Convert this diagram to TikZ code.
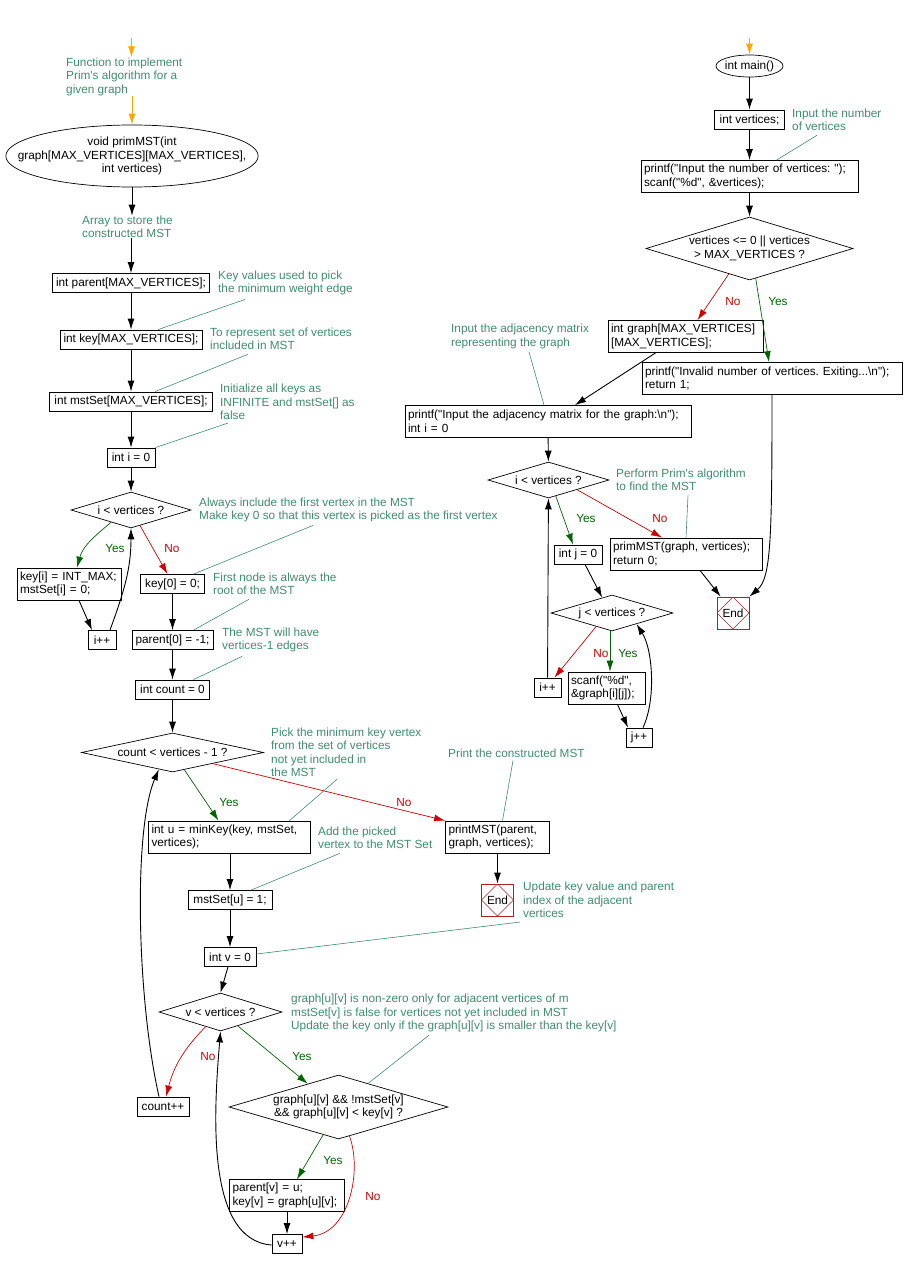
\documentclass[tikz,border=0pt]{standalone}
\usepackage{fontspec}
\setmainfont{Liberation Sans}
\usetikzlibrary{shapes.geometric,arrows.meta,calc}
\definecolor{notecol}{RGB}{64,140,110}
\definecolor{yescol}{RGB}{0,100,0}
\definecolor{nocol}{RGB}{210,0,0}
\definecolor{startcol}{RGB}{255,165,0}
\definecolor{endcol}{RGB}{170,34,34}
\frenchspacing

\begin{document}
\begin{tikzpicture}[x=1pt,y=-1pt,
  font=\fontsize{11.8}{13.5}\selectfont,
  >={Latex[length=11pt,width=7pt]},
  box/.style={draw,line width=0.8pt,inner xsep=3pt,inner ysep=2pt,minimum height=19pt},
  mbox/.style={box,align=left,minimum height=32pt},
  cond/.style={draw,diamond,line width=0.7pt,inner sep=0pt,align=center},
  term/.style={draw,ellipse,line width=0.7pt,inner ysep=0pt,align=center},
  endbox/.style={draw=endcol,line width=0.7pt,minimum size=32pt,inner sep=0pt,
    path picture={\draw[endcol,line width=0.6pt] (path picture bounding box.north)
      -- (path picture bounding box.east) -- (path picture bounding box.south)
      -- (path picture bounding box.west) -- cycle;}},
  note/.style={text=notecol,align=left,inner sep=0pt,anchor=west},
  noteline/.style={draw=notecol,line width=0.6pt},
  flow/.style={->,line width=0.9pt},
  startarr/.style={->,draw=startcol,line width=0.9pt},
  yesarr/.style={->,draw=yescol,line width=0.7pt},
  noarr/.style={->,draw=nocol,line width=0.7pt},
  yestxt/.style={text=yescol,inner sep=0pt},
  notxt/.style={text=nocol,inner sep=0pt}]
  \def\lcol{131}
  \def\mcol{172.5}
  \def\rcol{749.5}
  \def\q{\textquotedbl}
  \useasboundingbox (0,0) rectangle (903,1268);

  % primMST: set up
  \coordinate (s1) at (131.5,38);
  \node[note] (c1) at (66,76.5) {Function to implement\\Prim\textquotesingle s algorithm for a\\given graph};
  \node[term,minimum width=250pt,minimum height=62pt,inner xsep=-25pt] (pm) at (132,156)
    {void primMST(int\\graph[MAX\_VERTICES][MAX\_VERTICES],\\int vertices)};
  \node[note] (c2) at (82,227) {Array to store the\\constructed MST};
  \node[box,minimum width=157pt] (par) at (\lcol,283) {int parent[MAX\_VERTICES];};
  \node[note] (c3) at (218,283) {Key values used to pick\\the minimum weight edge};
  \node[box,minimum width=142pt] (keyb) at (\lcol,339.5) {int key[MAX\_VERTICES];};
  \node[note] (c4) at (210,339) {To represent set of vertices\\included in MST};
  \node[box,minimum width=163pt] (mset) at (\lcol,401.5) {int mstSet[MAX\_VERTICES];};
  \node[note] (c5) at (220,402) {Initialize all keys as\\INFINITE and mstSet[] as\\false};
  \node[box,minimum width=48pt] (i0) at (\lcol,457.5) {int i = 0};
  \node[cond,aspect=3.33,minimum width=120pt,minimum height=36pt] (d1) at (\lcol,510) {i < vertices ?};
  \node[note] (c6) at (199,510) {Always include the first vertex in the MST\\Make key 0 so that this vertex is picked as the first vertex};
  \node[mbox,text width=98pt] (keyi) at (69,584) {key[i] = INT\_MAX;\\mstSet[i] = 0;};
  \node[box,minimum width=28pt] (ipp) at (102,640) {i++};
  \node[box,minimum width=64pt] (key0) at (\mcol,584) {key[0] = 0;};
  \node[note] (c7) at (213,584) {First node is always the\\root of the MST};
  \node[box,minimum width=81pt] (p0) at (\mcol,640) {parent[0] = -1;};
  \node[note] (c8) at (222,640) {The MST will have\\vertices-1 edges};
  \node[box,minimum width=74pt] (cnt) at (\mcol,689.5) {int count = 0};

  % primMST: main loop
  \node[cond,aspect=4.67,minimum width=182pt,minimum height=39pt] (d2) at (\mcol,752.5) {count < vertices - 1 ?};
  \node[note] (c9) at (271,752.5) {Pick the minimum key vertex\\from the set of vertices\\not yet included in\\the MST};
  \node[mbox,text width=156pt] (intu) at (229.5,837) {int u = minKey(key, mstSet,\\vertices);};
  \node[note] (c10) at (318,838) {Add the picked\\vertex to the MST Set};
  \node[box,minimum width=84pt] (mstu) at (230,900) {mstSet[u] = 1;};
  \node[mbox,text width=98pt] (prt) at (497.5,837) {printMST(parent,\\graph, vertices);};
  \node[note] (c11) at (448,753) {Print the constructed MST};
  \node[endbox] (e1) at (497.5,900) {End};
  \node[note] (c12) at (523,900) {Update key value and parent\\index of the adjacent\\vertices};
  \node[box,minimum width=52pt] (intv) at (230,957) {int v = 0};
  \node[cond,aspect=3.24,minimum width=123pt,minimum height=38pt] (d3) at (220.5,1012) {v < vertices ?};
  \node[note] (c13) at (291,1013) {graph[u][v] is non-zero only for adjacent vertices of m\\mstSet[v] is false for vertices not yet included in MST\\Update the key only if the graph[u][v] is smaller than the key[v]};
  \node[cond,aspect=3.42,minimum width=219pt,minimum height=64pt] (d4) at (338.5,1107)
    {graph[u][v] \&\& !mstSet[v]\\\&\& graph[u][v] < key[v] ?};
  \node[box,minimum width=52pt] (cpp) at (163,1106.5) {count++};
  \node[mbox,text width=109pt] (pv) at (287,1195.5) {parent[v] = u;\\key[v] = graph[u][v];};
  \node[box,minimum width=30pt] (vpp) at (287,1244) {v++};

  % main
  \coordinate (s2) at (\rcol,38);
  \node[term,minimum width=67pt,minimum height=22pt,inner xsep=-3pt] (mainn) at (\rcol,66) {int main()};
  \node[box,minimum width=70pt] (vert) at (\rcol,119.5) {int vertices;};
  \node[note] (c14) at (792,120) {Input the number\\of vertices};
  \node[mbox,text width=211pt] (scanfv) at (\rcol,176.5) {printf(\q Input the number of vertices: \q);\\scanf(\q\%d\q, \&vertices);};
  \node[cond,aspect=3.29,minimum width=207pt,minimum height=63pt] (d5) at (\rcol,248.5) {vertices <= 0 || vertices\\> MAX\_VERTICES ?};
  \node[mbox,text width=149pt] (gdecl) at (685.5,336.5) {int graph[MAX\_VERTICES]\\{}[MAX\_VERTICES];};
  \node[mbox,text width=254pt] (inv) at (772,378.5) {printf(\q Invalid number of vertices. Exiting...\textbackslash n\q);\\return 1;};
  \node[note] (c15) at (451,336.5) {Input the adjacency matrix\\representing the graph};
  \node[mbox,text width=280pt] (adj) at (548,421.5) {printf(\q Input the adjacency matrix for the graph:\textbackslash n\q);\\int i = 0};
  \node[cond,aspect=3.36,minimum width=121pt,minimum height=36pt] (d6) at (548.5,480) {i < vertices ?};
  \node[note] (c16) at (616,480) {Perform Prim\textquotesingle s algorithm\\to find the MST};
  \node[mbox,text width=146pt] (primc) at (686,554) {primMST(graph, vertices);\\return 0;};
  \node[box,minimum width=48pt] (j0) at (578,554.5) {int j = 0};
  \node[endbox] (e2) at (733,613) {End};
  \node[cond,aspect=3.39,minimum width=122pt,minimum height=36pt] (d7) at (612,613) {j < vertices ?};
  \node[box,minimum width=27pt] (ipp2) at (547.5,687.5) {i++};
  \node[mbox,text width=71pt] (scanfg) at (606.5,688) {scanf(\q\%d\q,\\\&graph[i][j]);};
  \node[box,minimum width=26pt] (jpp) at (639,737.5) {j++};

  % yes / no labels
  \node[yestxt] (y1) at (115,548) {Yes};
  \node[notxt] (n1) at (172,548) {No};
  \node[yestxt] (y2) at (229,802) {Yes};
  \node[notxt] (n2) at (404,802) {No};
  \node[yestxt] (y3) at (302,1056) {Yes};
  \node[notxt] (n3) at (208,1056) {No};
  \node[yestxt] (y4) at (333,1160) {Yes};
  \node[notxt] (n4) at (373,1196) {No};
  \node[yestxt] (y5) at (778,301) {Yes};
  \node[notxt] (n5) at (733,301) {No};
  \node[yestxt] (y6) at (586,518) {Yes};
  \node[notxt] (n6) at (660,518) {No};
  \node[yestxt] (y7) at (628,653) {Yes};
  \node[notxt] (n7) at (601,653) {No};

  % flow, left
  \draw[startarr] (s1) -- (s1 |- c1.north);
  \draw[startarr] (c1.south -| pm.north) -- (pm.north);
  \draw[flow] (pm.south) -- (pm.south |- c2.north);
  \draw[flow] (c2.south -| par.north) -- (par.north);
  \draw[flow] (par) -- (keyb);
  \draw[flow] (keyb) -- (mset);
  \draw[flow] (mset) -- (i0);
  \draw[flow] (i0) -- (d1);
  \draw[yesarr] ($(d1.south)!0.33!(d1.west)$) to[out=-140,in=75] ([xshift=8pt]keyi.north);
  \draw[flow] ([xshift=10pt]keyi.south) -- ([xshift=-10pt]ipp.north);
  \draw[flow] ([xshift=8pt]ipp.north) to[out=70,in=-90] (d1.south);
  \draw[noarr] ($(d1.south)!0.15!(d1.east)$) -- ([xshift=-5pt]key0.north);
  \draw[flow] (key0) -- (p0);
  \draw[flow] (p0) -- (cnt);
  \draw[flow] (cnt) -- (d2);
  \draw[yesarr] ($(d2.south)!0.13!(d2.east)$) -- ([xshift=-11pt]intu.north);
  \draw[noarr] ($(d2.south)!0.44!(d2.east)$) -- (prt.north west);
  \draw[flow] (intu.south -| mstu.north) -- (mstu.north);
  \draw[flow] (mstu) -- (intv);
  \draw[flow] ([xshift=-2pt]intv.south) -- (d3.north);
  \draw[yesarr] ($(d3.south)!0.28!(d3.east)$) -- ($(d4.north)!0.28!(d4.west)$);
  \draw[noarr] ($(d3.south)!0.24!(d3.west)$) to[bend right=15] ([xshift=3pt]cpp.north);
  \draw[flow] ([xshift=-4pt]cpp.north) .. controls (137,1000) and (133,830) .. ($(d2.south)!0.15!(d2.west)$);
  \draw[yesarr] ($(d4.south)!0.14!(d4.west)$) -- ([xshift=10pt]pv.north);
  \draw[noarr] ($(d4.south)!0.1!(d4.east)$) .. controls (362,1170) and (350,1232) .. ([yshift=-3pt]vpp.north east);
  \draw[flow] (pv) -- (vpp);
  \draw[flow] ([yshift=-1pt]vpp.west) .. controls (205,1240) and (214,1110) .. (d3.south);
  \draw[flow] (prt) -- (e1);

  % flow, main
  \draw[startarr] (s2) -- (mainn.north);
  \draw[flow] (mainn) -- (vert);
  \draw[flow] (vert) -- (scanfv);
  \draw[flow] (scanfv) -- (d5);
  \draw[noarr] ($(d5.south)!0.2!(d5.west)$) -- ([xshift=12pt]gdecl.north);
  \draw[yesarr] ($(d5.south)!0.06!(d5.east)$) -- ([xshift=-3pt]inv.north);
  \draw[flow] ([xshift=-30pt]gdecl.south) -- ([xshift=27pt]adj.north);
  \draw[flow] (inv.south) .. controls (772,540) and (771,578) .. (e2.north east);
  \draw[flow] (adj) -- (d6);
  \draw[yesarr] ($(d6.south)!0.12!(d6.east)$) -- ([xshift=-5pt]j0.north);
  \draw[noarr] ($(d6.south)!0.47!(d6.east)$) -- ([xshift=-24pt]primc.north);
  \draw[flow] ([xshift=14pt]primc.south) -- ([xshift=4pt]e2.north west);
  \draw[flow] ([xshift=7pt]j0.south) -- ($(d7.north)!0.16!(d7.west)$);
  \draw[noarr] ($(d7.south)!0.26!(d7.west)$) -- ([xshift=7pt]ipp2.north);
  \draw[yesarr] ([xshift=-2pt]d7.south) -- ([xshift=3.5pt]scanfg.north);
  \draw[flow] (ipp2) -- (d6);
  \draw[flow] ([xshift=11pt]scanfg.south) -- ([xshift=-11pt]jpp.north);
  \draw[flow] ([xshift=4pt]jpp.north) .. controls (656,700) and (653,650) .. ($(d7.south)!0.4!(d7.east)$);

  % comment lines
  \draw[noteline] ([shift={(27,4)}]c3.south west) -- ([xshift=27pt]keyb.north);
  \draw[noteline] ([shift={(38,4)}]c4.south west) -- ([xshift=24pt]mset.north);
  \draw[noteline] ([shift={(8,3)}]c5.south west) -- (i0.north east);
  \draw[noteline] ([shift={(114,3)}]c6.south west) -- ([xshift=21pt]key0.north);
  \draw[noteline] ([shift={(36,4)}]c7.south west) -- ([xshift=21pt]p0.north);
  \draw[noteline] ([shift={(20,4)}]c8.south west) -- ([xshift=21pt]cnt.north);
  \draw[noteline] ([shift={(66,2)}]c9.south west) -- ([xshift=60pt]intu.north);
  \draw[noteline] ([shift={(22,4)}]c10.south west) -- ([xshift=21pt]mstu.north);
  \draw[noteline] ([shift={(65,3)}]c11.south west) -- ([xshift=5pt]prt.north);
  \draw[noteline] ([shift={(-3,4)}]c12.south west) -- ([yshift=3pt]intv.east);
  \draw[noteline] ([shift={(138,3)}]c13.south west) -- ($(d4.north)!0.27!(d4.east)$);
  \draw[noteline] ([shift={(25,4)}]c14.south west) -- ([xshift=27pt]scanfv.north);
  \draw[noteline] ([shift={(78,3)}]c15.south west) -- ([xshift=-4pt]adj.north);
  \draw[noteline] ([shift={(72,4)}]c16.south west) -- (primc.north);
\end{tikzpicture}
\end{document}
